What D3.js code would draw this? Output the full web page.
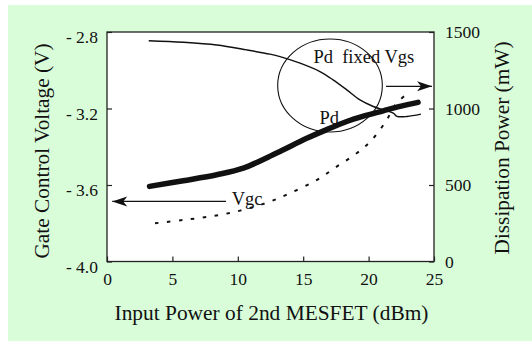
<!DOCTYPE html>
<html>
<head>
<meta charset="utf-8">
<script src="https://cdn.jsdelivr.net/npm/d3@7"></script>
<style>
  body { margin: 0; background: #fff; }
</style>
</head>
<body>
<svg></svg>
<script>
const w = 532;
const h = 341;
const margin = { top: 32, right: 98, bottom: 79.5, left: 107 };
const serif = '"Liberation Serif", "Times New Roman", serif';

// Pd with fixed Vgs (right axis, mW)
const pdFixedX = [3.19, 5.83, 8.39, 10.68, 12.46, 13.23, 14.76, 16.28, 17.28, 18.33, 19.34, 20.36, 21.12, 21.89, 22.17, 22.94, 24.0];
const pdFixedY = [1443, 1433, 1415, 1383, 1355, 1339, 1296, 1241, 1187, 1122, 1056, 1013, 991, 970, 949, 948, 963];

// Pd with gate control (right axis, mW)
const pdX = [3.25, 5.83, 8.39, 10.42, 12.97, 15.27, 16.8, 18.33, 19.6, 21.12, 22.4, 23.78];
const pdY = [491, 528, 567, 610, 709, 805, 862, 915, 950, 985, 1014, 1040];

// Gate control voltage (left axis, V)
const vgcX = [3.67, 5.83, 8.13, 10.17, 12.21, 13.99, 16.03, 17.56, 19.09, 20.24, 21.38, 22.02, 22.91];
const vgcY = [-3.8, -3.783, -3.762, -3.734, -3.693, -3.643, -3.574, -3.504, -3.434, -3.365, -3.26, -3.182, -3.124];

const xTicks = [0, 5, 10, 15, 20, 25];
const leftTicks = [-4.0, -3.6, -3.2, -2.8];
const rightTicks = [0, 500, 1000, 1500];

const svg = d3.select('svg').attr('width', w).attr('height', h)
    .attr('font-family', serif);

// green panel
svg.append('rect')
    .attr('x', 8).attr('y', 5)
    .attr('width', w - 8).attr('height', h - 5)
    .attr('fill', '#d9fdd9');

const x = d3.scaleLinear().domain([0, 25]).range([margin.left, w - margin.right]);
const yL = d3.scaleLinear().domain([-4.0, -2.8]).range([h - margin.bottom, margin.top]);
const yR = d3.scaleLinear().domain([0, 1500]).range([h - margin.bottom, margin.top]);

// plot box
svg.append('rect')
    .attr('x', margin.left).attr('y', margin.top)
    .attr('width', w - margin.left - margin.right)
    .attr('height', h - margin.top - margin.bottom)
    .attr('fill', '#fff')
    .attr('stroke', '#222')
    .attr('stroke-width', 1.3);

// axes with inward ticks
const gx = svg.append('g')
    .attr('transform', 'translate(0,' + (h - margin.bottom) + ')')
    .call(d3.axisBottom(x).tickValues(xTicks).tickSize(-5).tickPadding(11).tickFormat(d3.format('d')));
const gl = svg.append('g')
    .attr('transform', 'translate(' + margin.left + ',0)')
    .call(d3.axisLeft(yL).tickValues(leftTicks).tickSize(-5).tickPadding(9)
        .tickFormat((d) => '- ' + Math.abs(d).toFixed(1)));
const gr = svg.append('g')
    .attr('transform', 'translate(' + (w - margin.right) + ',0)')
    .call(d3.axisRight(yR).tickValues(rightTicks).tickSize(-5).tickPadding(11).tickFormat(d3.format('d')));

[gx, gl, gr].forEach((g) => {
    g.attr('font-family', serif).attr('font-size', 17.5);
    g.select('.domain').remove();
    g.selectAll('line').attr('stroke', '#222').attr('stroke-width', 1.2);
    g.selectAll('text').attr('fill', '#111');
});
gl.selectAll('text').attr('y', 5);

// axis titles
svg.append('text')
    .attr('x', (margin.left + w - margin.right) / 2 + 1)
    .attr('y', 320)
    .attr('text-anchor', 'middle')
    .attr('font-size', 21.4)
    .attr('fill', '#111')
    .text('Input Power of 2nd MESFET (dBm)');
svg.append('text')
    .attr('transform', 'translate(48.5,151) rotate(-90)')
    .attr('text-anchor', 'middle')
    .attr('font-size', 21.3)
    .attr('fill', '#111')
    .text('Gate Control Voltage (V)');
svg.append('text')
    .attr('transform', 'translate(508.5,148) rotate(-90)')
    .attr('text-anchor', 'middle')
    .attr('font-size', 21.3)
    .attr('fill', '#111')
    .text('Dissipation Power (mW)');

// curves
const lineR = d3.line().x((d) => x(d[0])).y((d) => yR(d[1])).curve(d3.curveCatmullRom);
const lineL = d3.line().x((d) => x(d[0])).y((d) => yL(d[1])).curve(d3.curveCatmullRom);

svg.append('path')
    .datum(vgcX.map((v, i) => [v, vgcY[i]]))
    .attr('d', lineL)
    .attr('fill', 'none')
    .attr('stroke', '#111')
    .attr('stroke-width', 2)
    .attr('stroke-dasharray', '3.5,8.5');

svg.append('path')
    .datum(pdFixedX.map((v, i) => [v, pdFixedY[i]]))
    .attr('d', lineR)
    .attr('fill', 'none')
    .attr('stroke', '#111')
    .attr('stroke-width', 1.4);

svg.append('path')
    .datum(pdX.map((v, i) => [v, pdY[i]]))
    .attr('d', lineR)
    .attr('fill', 'none')
    .attr('stroke', '#111')
    .attr('stroke-width', 5.5)
    .attr('stroke-linecap', 'round');

// annotations
svg.append('ellipse')
    .attr('cx', x(17.05)).attr('cy', yR(1150))
    .attr('rx', x(4) - x(0)).attr('ry', yR(0) - yR(304))
    .attr('fill', 'none')
    .attr('stroke', '#111')
    .attr('stroke-width', 1.1);

svg.append('defs').append('marker')
    .attr('id', 'head')
    .attr('viewBox', '-16 -6 17 12')
    .attr('markerWidth', 17).attr('markerHeight', 12)
    .attr('markerUnits', 'userSpaceOnUse')
    .attr('refX', 0).attr('refY', 0)
    .attr('orient', 'auto')
    .append('path')
    .attr('d', 'M0,0 L-15,-5 L-11,0 L-15,5 Z')
    .attr('fill', '#111');

svg.append('line')
    .attr('x1', x(9.1)).attr('y1', yL(-3.686))
    .attr('x2', x(0.4)).attr('y2', yL(-3.686))
    .attr('stroke', '#111').attr('stroke-width', 1.3)
    .attr('marker-end', 'url(#head)');
svg.append('line')
    .attr('x1', x(21.33)).attr('y1', yR(1145))
    .attr('x2', x(24.85)).attr('y2', yR(1145))
    .attr('stroke', '#111').attr('stroke-width', 1.3)
    .attr('marker-end', 'url(#head)');

const notes = [
    { t: 'Pd  fixed Vgs', x: x(15.78), y: yR(1299) },
    { t: 'Pd', x: x(16.24), y: yR(899) },
    { t: 'Vgc', x: x(9.53), y: yL(-3.705) }
];
svg.selectAll('.note')
    .data(notes)
    .enter()
    .append('text')
    .attr('class', 'note')
    .attr('x', (d) => d.x)
    .attr('y', (d) => d.y)
    .attr('font-size', 18.5)
    .style('white-space', 'pre')
    .attr('fill', '#111')
    .text((d) => d.t);
</script>
</body>
</html>
